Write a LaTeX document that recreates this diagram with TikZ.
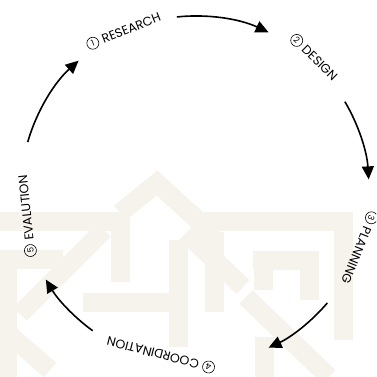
\documentclass[tikz,border=0pt]{standalone}
\usepackage{fontspec}
\setmainfont{Poppins}
\usetikzlibrary{arrows.meta}
\definecolor{wm}{RGB}{246,243,237}

\begin{document}
\begin{tikzpicture}[x=1pt,y=1pt,
  lbl/.style={font=\fontsize{12.5}{14}\selectfont,inner sep=0pt},
  numc/.style={draw,circle,line width=0.6pt,minimum size=12pt,inner sep=0pt,
    outer sep=4pt,font=\fontsize{8.5}{9}\selectfont,anchor=east},
  cyc/.style={line width=1.6pt,-{Triangle[length=13pt,width=12pt]}},
  band/.style={wm,line width=19pt}]
\useasboundingbox (0,0) rectangle (376,377);
\clip (0,0) rectangle (376,377);
% watermark, in image coordinates
\begin{scope}[yshift=377pt,yscale=-1]
\draw[band] (-10,222) -- (120,222) -- (120,282);
\draw[band] (120,213) -- (157,183) -- (215,236);
\draw[band] (104,230) -- (20,314);
\draw[band] (0,260) -- (63,260);
\draw[band] (7,250) -- (7,390);
\draw[band] (-5,322) -- (50,370);
\draw[band] (83,303) -- (170,303);
\draw[band] (178,240) -- (178,347);
\draw[band] (204,222) -- (343,222) -- (343,340);
\draw[band] (214,232) -- (214,312);
\draw[band] (253,261) -- (309,261) -- (309,300);
\draw[band] (263,261) -- (263,290);
\draw[band] (186,233) -- (243,287);
\draw[band] (246,297) -- (329,377);
\draw[band] (264,337) -- (264,390);
\end{scope}
% cycle
\coordinate (c) at (195,187);
\foreach \n/\a/\r/\d/\t in {res/111.5/174/1/RESEARCH,des/45.5/178/2/DESIGN,pla/-22/174/3/PLANNING,
    coo/-104.5/168/4/COORDINATION,eva/186/170/5/EVALUTION}{
  \node[lbl,rotate=\a-90] (\n) at ([shift={(\a:\r)}]c) {\t};
  \node[numc,rotate=\a-90] (\n-n) at (\n.west) {\d};
}
\foreach \s/\e [count=\i] in {96/65,30.5/3.5,-40.5/-65,-126/-149,164/132}{
  \coordinate (s\i) at ([shift={(\s:174)}]c);
  \draw[cyc] (s\i) arc[start angle=\s,end angle=\e,radius=174];
}
\end{tikzpicture}
\end{document}
